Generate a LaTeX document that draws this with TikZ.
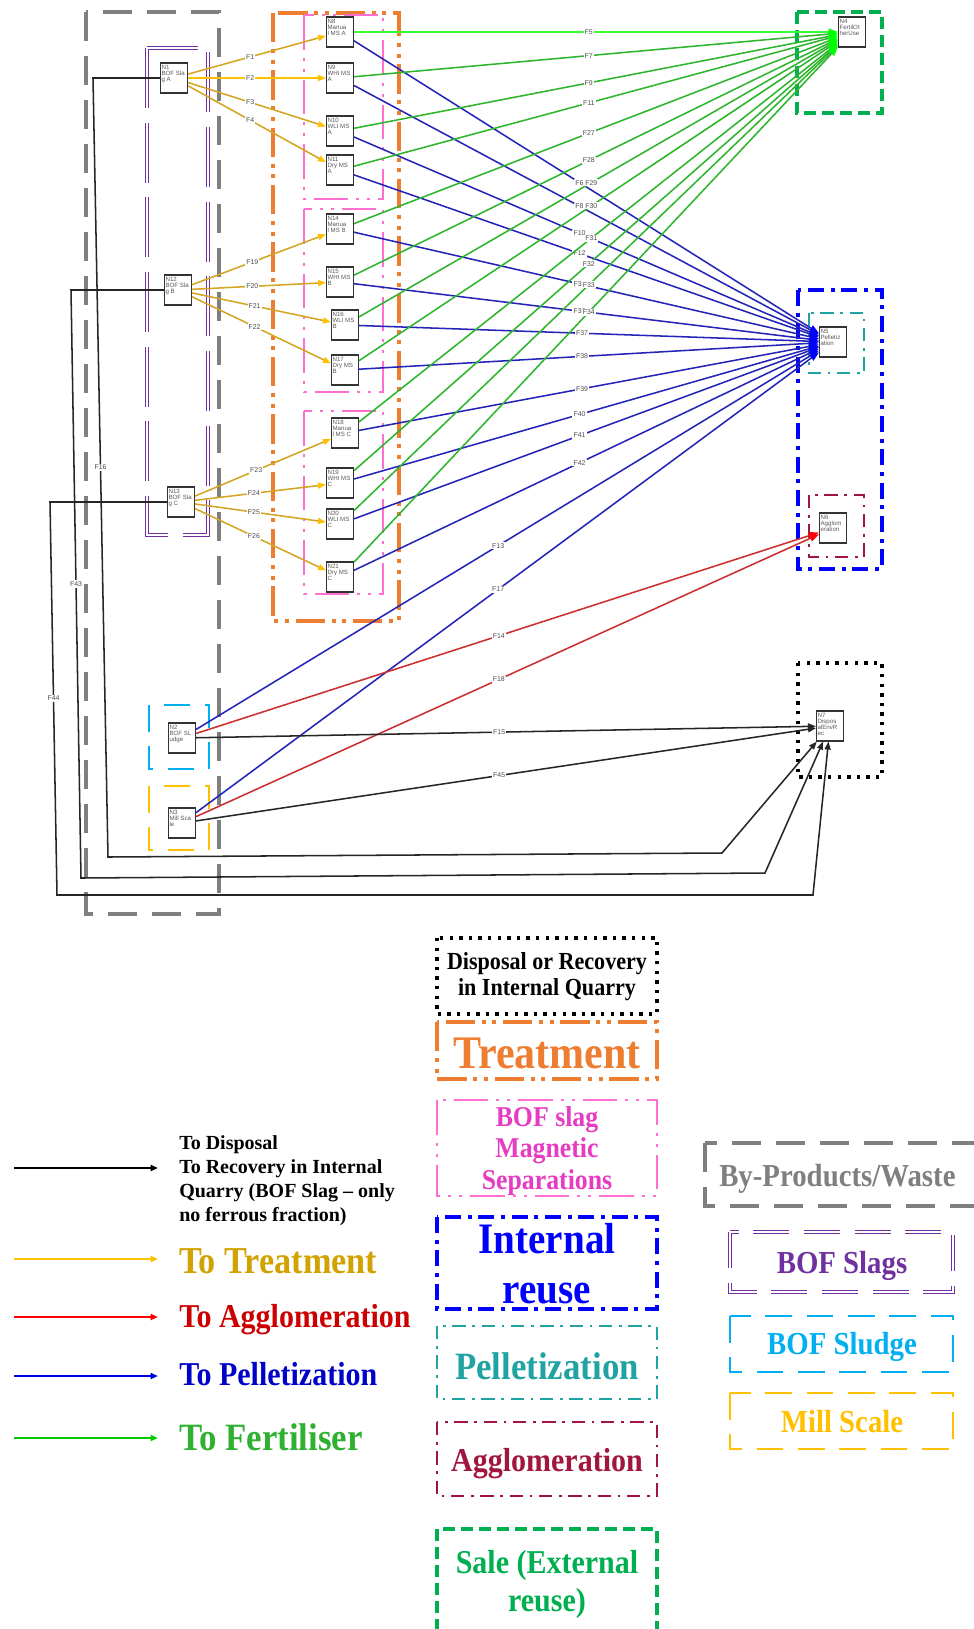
\documentclass[tikz,border=0pt]{standalone}
\usepackage{fontspec}
\setmainfont{Liberation Serif}
\newfontfamily\nodefont{Liberation Sans}
\newfontfamily\condserif[FakeStretch=0.9]{Liberation Serif}
\usetikzlibrary{arrows.meta}

% group / legend colours
\definecolor{cgray}{HTML}{7F7F7F}
\definecolor{cpurple}{HTML}{7030A0}
\definecolor{corange}{HTML}{ED7D31}
\definecolor{cpink}{HTML}{FF6FD0}
\definecolor{cpinktxt}{HTML}{E63CC2}
\definecolor{cblue}{HTML}{0000FF}
\definecolor{cteal}{HTML}{21A3A3}
\definecolor{cmaroon}{HTML}{A0163F}
\definecolor{cgreen}{HTML}{00B050}
\definecolor{ccyan}{HTML}{00B0F0}
\definecolor{cyellow}{HTML}{FFC000}
% flow colours
\definecolor{fgold}{HTML}{D4A520}
\definecolor{fyellow}{HTML}{FFC000}
\definecolor{fgreen}{HTML}{2DB52D}
\definecolor{flime}{HTML}{33FF33}
\definecolor{fblue}{HTML}{2424B8}
\definecolor{fred}{HTML}{CC2E2E}
% legend caption colours
\definecolor{ltgold}{HTML}{D2A200}
\definecolor{ltred}{HTML}{CC0000}
\definecolor{ltblue}{HTML}{0000C8}
\definecolor{ltgreen}{HTML}{30B030}

% text inside the small process boxes, set from the top left
\newcommand{\boxtxt}[1]{\parbox[c][19pt][t]{18.6pt}{\raggedright #1}}

\begin{document}
\begin{tikzpicture}[x=0.75pt,y=-0.75pt,
  nd/.style={draw=black!80, fill=white, line width=0.8pt, minimum width=20.25pt,
    minimum height=22.5pt, inner sep=0.6pt, text=black!65,
    font=\nodefont\fontsize{4.6}{4.6}\selectfont},
  lbl/.style={fill=white, inner sep=0.8pt, text=black!70,
    font=\nodefont\fontsize{5.2}{5.2}\selectfont},
  flow/.style={line width=1.15pt},
  goldf/.style={flow, draw=fgold, -{Triangle[length=6pt,width=4.5pt,color=fyellow]}},
  yelf/.style={flow, draw=fyellow, -{Triangle[length=6pt,width=4.5pt,color=fyellow]}},
  greenf/.style={flow, draw=fgreen, -{Triangle[length=7pt,width=5pt,color=green]}},
  limef/.style={flow, draw=flime, -{Triangle[length=7pt,width=5pt,color=green]}},
  bluef/.style={flow, draw=fblue, -{Triangle[length=7pt,width=5pt,color=blue]}},
  redf/.style={flow, draw=fred, -{Triangle[length=7pt,width=5pt,color=red]}},
  blackf/.style={flow, draw=black!85, -{Triangle[length=6pt,width=4.5pt]}},
  bgray/.style={draw=cgray, line width=3pt, dash pattern=on 22pt off 11pt},
  bpurple/.style={draw=cpurple, line width=0.8pt, double=white, double distance=1.3pt,
    dash pattern=on 45pt off 11pt},
  bpurplek/.style={draw=cpurple, line width=0.8pt, double=white, double distance=1.5pt,
    dash pattern=on 27pt off 11pt},
  borange/.style={draw=corange, line width=3pt,
    dash pattern=on 22pt off 5pt on 3pt off 5pt on 3pt off 5pt},
  bpink/.style={draw=cpink, line width=2.2pt,
    dash pattern=on 26pt off 6pt on 2.2pt off 6pt on 2.2pt off 6pt},
  bblue/.style={draw=cblue, line width=3pt, dash pattern=on 12pt off 5pt on 3pt off 5pt},
  bteal/.style={draw=cteal, line width=2pt, dash pattern=on 10pt off 5pt on 2pt off 5pt},
  bmaroon/.style={draw=cmaroon, line width=2pt, dash pattern=on 10pt off 5pt on 2pt off 5pt},
  bgreen/.style={draw=cgreen, line width=3pt, dash pattern=on 9pt off 4.5pt},
  bdot/.style={draw=black, line width=2.6pt, dash pattern=on 2.6pt off 4.6pt},
  bcyan/.style={draw=ccyan, line width=2pt, dash pattern=on 20pt off 11pt},
  byellow/.style={draw=cyellow, line width=2pt, dash pattern=on 20pt off 11pt},
  legarrow/.style={line width=1.6pt, -{Triangle[length=5.5pt,width=4.5pt]}},
  legtxt/.style={inner sep=0pt, align=center},
]
\useasboundingbox (0,0) rectangle (974,1629);
\clip (0,0) rectangle (974,1629);
\fill[white] (0,0) rectangle (974,1629);

% ---------- grouping frames ----------
\draw[bgray] (86,12) rectangle (219,914);
\draw[bpurple] (147,48) rectangle (208,535);
\draw[bcyan] (149,705) rectangle (209,769);
\draw[byellow] (149,786) rectangle (209,850);
\draw[borange] (273,13) rectangle (399,621);
\draw[bpink] (304,15) rectangle (383,199);
\draw[bpink] (304,209) rectangle (383,392);
\draw[bpink] (304,411) rectangle (383,594);
\draw[bgreen] (797,12) rectangle (882,113);
\draw[bblue] (798,290) rectangle (882,569);
\draw[bteal] (809,313) rectangle (864,373);
\draw[bmaroon] (809,495) rectangle (864,557);
\draw[bdot] (798,663) rectangle (882,777);

% ---------- process nodes ----------
\node[nd] (N1) at (174,78) {\boxtxt{N1\\BOF Sla\\g A}};
\node[nd] (N12) at (178,290) {\boxtxt{N12\\BOF Sla\\g B}};
\node[nd] (N13) at (181,502) {\boxtxt{N13\\BOF Sla\\g C}};
\node[nd] (N2) at (182,738) {\boxtxt{N2\\BOF SL\\udge}};
\node[nd] (N3) at (182,823) {\boxtxt{N3\\Mill Sca\\le}};
\node[nd] (N8) at (340,32) {\boxtxt{N8\\Manua\\l MS A}};
\node[nd] (N9) at (340,78) {\boxtxt{N9\\WHI MS\\A}};
\node[nd] (N10) at (340,131) {\boxtxt{N10\\WLI MS\\A}};
\node[nd] (N11) at (340,170) {\boxtxt{N11\\Dry MS\\A}};
\node[nd] (N14) at (340,229) {\boxtxt{N14\\Manua\\l MS B}};
\node[nd] (N15) at (340,282) {\boxtxt{N15\\WHI MS\\B}};
\node[nd] (N16) at (345,325) {\boxtxt{N16\\WLI MS\\B}};
\node[nd] (N17) at (345,370) {\boxtxt{N17\\Dry MS\\B}};
\node[nd] (N18) at (345,433) {\boxtxt{N18\\Manua\\l MS C}};
\node[nd] (N19) at (340,483) {\boxtxt{N19\\WHI MS\\C}};
\node[nd] (N20) at (340,524) {\boxtxt{N20\\WLI MS\\C}};
\node[nd] (N21) at (340,577) {\boxtxt{N21\\Dry MS\\C}};
\node[nd] (N4) at (852,32) {\boxtxt{N4\\FertilOt\\herUse}};
\node[nd] (N5) at (833,342) {\boxtxt{N5\\Pelletiz\\ation}};
\node[nd] (N6) at (833,528) {\boxtxt{N6\\Agglom\\eration}};
\node[nd] (N7) at (830,726) {\boxtxt{N7\\Dispos\\alEnvR\\ec}};

% ---------- flows to treatment ----------
\draw[goldf] (N1) -- node[lbl,pos=.45]{F1} (N8);
\draw[yelf]  (N1) -- node[lbl,pos=.45]{F2} (N9);
\draw[goldf] (N1) -- node[lbl,pos=.45]{F3} (N10);
\draw[goldf] (N1) -- node[lbl,pos=.45]{F4} (N11);
\draw[goldf] (N12) -- node[lbl,pos=.45]{F19} (N14);
\draw[goldf] (N12) -- node[lbl,pos=.45]{F20} (N15);
\draw[goldf] (N12) -- node[lbl,pos=.45]{F21} (N16);
\draw[goldf] (N12) -- node[lbl,pos=.45]{F22} (N17);
\draw[goldf] (N13) -- node[lbl,pos=.45]{F23} (N18);
\draw[goldf] (N13) -- node[lbl,pos=.45]{F24} (N19);
\draw[goldf] (N13) -- node[lbl,pos=.45]{F25} (N20);
\draw[goldf] (N13) -- node[lbl,pos=.45]{F26} (N21);

% ---------- flows to pelletization ----------
\draw[bluef] (N8) -- node[lbl,pos=.485]{F6} (N5);
\draw[bluef] (N9) -- node[lbl,pos=.485]{F8} (N5);
\draw[bluef] (N10) -- node[lbl,pos=.485]{F10} (N5);
\draw[bluef] (N11) -- node[lbl,pos=.485]{F12} (N5);
\draw[bluef] (N14) -- node[lbl,pos=.485]{F35} (N5);
\draw[bluef] (N15) -- node[lbl,pos=.485]{F36} (N5);
\draw[bluef] (N16) -- node[lbl,pos=.485]{F37} (N5);
\draw[bluef] (N17) -- node[lbl,pos=.485]{F38} (N5);
\draw[bluef] (N18) -- node[lbl,pos=.485]{F39} (N5);
\draw[bluef] (N19) -- node[lbl,pos=.485]{F40} (N5);
\draw[bluef] (N20) -- node[lbl,pos=.485]{F41} (N5);
\draw[bluef] (N21) -- node[lbl,pos=.485]{F42} (N5);
\draw[bluef] (N2) -- node[lbl,pos=.485]{F13} (N5);
\draw[bluef] (N3) -- node[lbl,pos=.485]{F17} (N5);

% ---------- flows to fertiliser ----------
\draw[limef]  (N8) -- node[lbl,pos=.485]{F5} (N4);
\draw[greenf] (N9) -- node[lbl,pos=.485]{F7} (N4);
\draw[greenf] (N10) -- node[lbl,pos=.485]{F9} (N4);
\draw[greenf] (N11) -- node[lbl,pos=.485]{F11} (N4);
\draw[greenf] (N14) -- node[lbl,pos=.485]{F27} (N4);
\draw[greenf] (N15) -- node[lbl,pos=.485]{F28} (N4);
\draw[greenf] (N16) -- node[lbl,pos=.485]{F29} (N4);
\draw[greenf] (N17) -- node[lbl,pos=.485]{F30} (N4);
\draw[greenf] (N18) -- node[lbl,pos=.485]{F31} (N4);
\draw[greenf] (N19) -- node[lbl,pos=.485]{F32} (N4);
\draw[greenf] (N20) -- node[lbl,pos=.485]{F33} (N4);
\draw[greenf] (N21) -- node[lbl,pos=.485]{F34} (N4);

% ---------- flows to agglomeration ----------
\draw[redf] (N2) -- node[lbl,pos=.486]{F14} (N6);
\draw[redf] (N3) -- node[lbl,pos=.486]{F18} (N6);

% ---------- flows to disposal ----------
\draw[blackf] (N2) -- node[lbl,pos=.489]{F15} (N7);
\draw[blackf] (N3) -- node[lbl,pos=.489]{F45} (N7);
\draw[blackf] (N1.west) -- (93,78) -- node[lbl]{F16} (108,857) -- (722,853) -- (N7);
\draw[blackf] (N12.west) -- (71,290) -- node[lbl]{F43} (81,878) -- (765,873) -- (N7);
\draw[blackf] (N13.west) -- (50,502) -- node[lbl]{F44} (57,895) -- (813,895) -- (N7);

% ---------- legend: flow colours ----------
\coordinate (la1) at (14,1168);  \coordinate (lb1) at (158,1168);
\coordinate (la2) at (14,1259);  \coordinate (lb2) at (158,1259);
\coordinate (la3) at (14,1317);  \coordinate (lb3) at (158,1317);
\coordinate (la4) at (14,1376);  \coordinate (lb4) at (158,1376);
\coordinate (la5) at (14,1438);  \coordinate (lb5) at (158,1438);
\draw[legarrow, black] (la1) -- (lb1);
\draw[legarrow, cyellow] (la2) -- (lb2);
\draw[legarrow, red] (la3) -- (lb3);
\draw[legarrow, blue!90!black] (la4) -- (lb4);
\draw[legarrow, green!80!black] (la5) -- (lb5);

\node[legtxt, anchor=west, align=left, font=\bfseries\fontsize{15}{18}\selectfont]
  (tDisp) at (179,1181) {To Disposal\\To Recovery in Internal\\Quarry (BOF Slag – only\\no ferrous fraction)};
\node[legtxt, anchor=base west, text=ltgold, font=\condserif\bfseries\fontsize{28.5}{30}\selectfont]
  (tTreat) at (179,1273) {To Treatment};
\node[legtxt, anchor=base west, text=ltred, font=\condserif\bfseries\fontsize{25}{30}\selectfont]
  (tAggl) at (179,1327) {To Agglomeration};
\node[legtxt, anchor=base west, text=ltblue, font=\condserif\bfseries\fontsize{25}{30}\selectfont]
  (tPell) at (179,1385) {To Pelletization};
\node[legtxt, anchor=base west, text=ltgreen, font=\condserif\bfseries\fontsize{29}{30}\selectfont]
  (tFert) at (179,1450) {To Fertiliser};

% ---------- legend: destination frames ----------
\draw[bdot] (437,938) rectangle (657,1014);
\node[legtxt, font=\condserif\bfseries\fontsize{18.4}{19.5}\selectfont]
  (kDisp) at (547,977) {Disposal or Recovery\\in Internal Quarry};
\draw[borange] (437,1022) rectangle (657,1079);
\node[legtxt, text=corange, font=\condserif\bfseries\fontsize{35}{36}\selectfont]
  (kTreat) at (547,1053) {Treatment};
\draw[bpink] (437,1100) rectangle (657,1196);
\node[legtxt, text=cpinktxt, font=\condserif\bfseries\fontsize{21.5}{23.5}\selectfont]
  (kMag) at (547,1151) {BOF slag\\Magnetic\\Separations};
\draw[bblue] (437,1217) rectangle (657,1309);
\node[legtxt, text=cblue, font=\condserif\bfseries\fontsize{32.6}{37.5}\selectfont]
  (kInt) at (547,1264) {Internal\\reuse};
\draw[bteal] (437,1326) rectangle (657,1399);
\node[legtxt, text=cteal, font=\condserif\bfseries\fontsize{29}{30}\selectfont]
  (kPel) at (547,1366) {Pelletization};
\draw[bmaroon] (437,1422) rectangle (657,1496);
\node[legtxt, text=cmaroon, font=\condserif\bfseries\fontsize{25}{30}\selectfont]
  (kAgg) at (547,1464) {Agglomeration};
\draw[bgreen] (437,1529) rectangle (657,1660);
\node[legtxt, text=cgreen, font=\condserif\bfseries\fontsize{25}{28.5}\selectfont]
  (kSale) at (547,1584) {Sale (External\\reuse)};

% ---------- legend: source frames ----------
\draw[bgray] (705,1143) rectangle (1000,1206);
\node[legtxt, anchor=west, text=cgray, font=\condserif\bfseries\fontsize{24}{26}\selectfont]
  (kByp) at (719,1179) {By-Products/Waste};
\draw[bpurplek] (730,1232) rectangle (953,1292);
\node[legtxt, text=cpurple, font=\condserif\bfseries\fontsize{24}{26}\selectfont]
  (kSlag) at (842,1266) {BOF Slags};
\draw[bcyan] (730,1316) rectangle (953,1372);
\node[legtxt, text=ccyan, font=\condserif\bfseries\fontsize{24}{26}\selectfont]
  (kSlud) at (842,1347) {BOF Sludge};
\draw[byellow] (730,1393) rectangle (953,1449);
\node[legtxt, text=cyellow, font=\condserif\bfseries\fontsize{24}{26}\selectfont]
  (kMill) at (842,1422) {Mill Scale};
\end{tikzpicture}
\end{document}
